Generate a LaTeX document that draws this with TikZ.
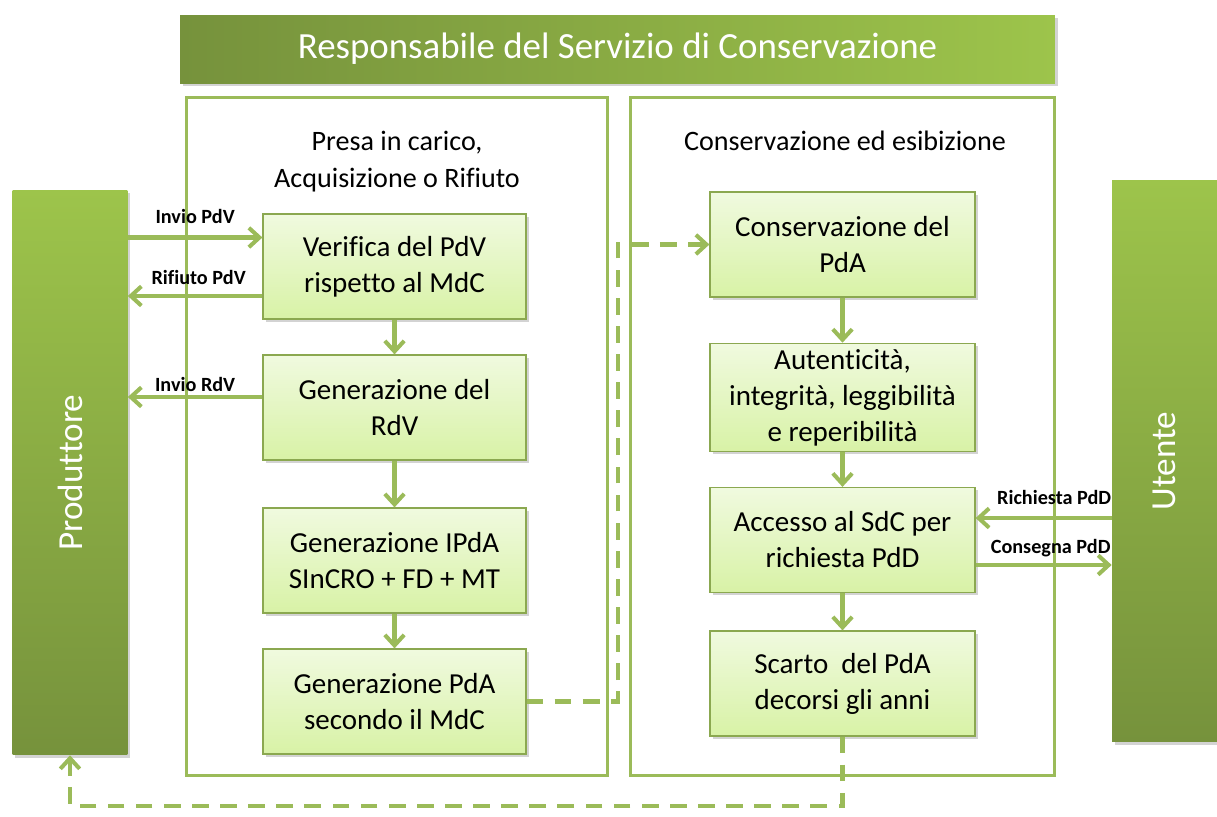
\documentclass[tikz,border=0pt]{standalone}
\usepackage{fontspec}
\setmainfont{Carlito}[Ligatures=NoCommon]
\usepackage{tikz}
\usetikzlibrary{arrows.meta,shadows}
\definecolor{olive}{HTML}{9BBB59}
\definecolor{olivedark}{HTML}{76923C}
\definecolor{olivelight}{HTML}{9DC44B}
\definecolor{boxtop}{HTML}{F0FADF}
\definecolor{boxbot}{HTML}{D8F2A6}
\begin{document}
\begin{tikzpicture}[x=0.02cm,y=-0.02cm,
  step box/.style={draw=olive!90!black, line width=0.7pt, top color=boxtop, bottom color=boxbot,
    minimum width=5.26cm, minimum height=2.1cm, align=center, font=\fontsize{16.5}{20.5}\selectfont,
    drop shadow={opacity=0.35, shadow xshift=1.5pt, shadow yshift=-1.5pt}},
  frame/.style={draw=olive, line width=1.7pt, minimum height=13.58cm},
  side/.style={minimum width=2.3cm, minimum height=11.3cm, top color=olivelight, bottom color=olivedark,
    text=white, font=\fontsize{20}{24}\selectfont,
    drop shadow={opacity=0.35, shadow xshift=1.5pt, shadow yshift=-1.5pt}},
  arr/.style={olive, line width=2.3pt, -{Straight Barb[length=6pt,width=11pt]}},
  darr/.style={arr, dash pattern=on 9.5pt off 6.5pt},
  lab/.style={font=\fontsize{11.5}{13}\bfseries\selectfont, text=black, inner sep=2pt}]
\useasboundingbox (0,0) rectangle (1217,816);
\node[left color=olivedark, right color=olivelight, minimum width=17.5cm, minimum height=1.36cm,
  text=white, font=\fontsize{21}{25}\selectfont,
  drop shadow={opacity=0.35, shadow xshift=1.5pt, shadow yshift=-1.5pt}] (rsc) at (617.5,49)
  {Responsabile del Servizio di Conservazione};
\node[frame, minimum width=8.44cm] (lframe) at (397,436.5) {};
\node[frame, minimum width=8.5cm] (rframe) at (842.5,436.5) {};
\node[align=center, font=\fontsize{16}{21}\selectfont] (ltitle) at (397,162)
  {Presa in carico,\\Acquisizione o Rifiuto};
\node[font=\fontsize{16}{21}\selectfont] (rtitle) at (845,141) {Conservazione ed esibizione};
\node[side] (prod) at (70,472.5) {\rotatebox{90}{Produttore}};
\node[side, minimum width=2.1cm, minimum height=11.24cm] (ute) at (1164.5,461) {\rotatebox{90}{Utente}};
\node[step box] (verif) at (394.5,266.5) {Verifica del PdV\\rispetto al MdC};
\node[step box] (grdv) at (394.5,407.5) {Generazione del\\RdV};
\node[step box] (gipda) at (394.5,560.5) {Generazione IPdA\\SInCRO + FD + MT};
\node[step box] (gpda) at (394.5,701.5) {Generazione PdA\\secondo il MdC};
\node[step box, minimum width=5.3cm] (cons) at (842.5,244.5) {Conservazione del\\PdA};
\node[step box, minimum width=5.3cm] (aut) at (842.5,397.5) {Autenticità,\\integrità, leggibilità\\e reperibilità};
\node[step box, minimum width=5.3cm] (acc) at (842.5,540) {Accesso al SdC per\\richiesta PdD};
\node[step box, minimum width=5.3cm] (scar) at (842.5,683.5) {Scarto~ del PdA\\decorsi gli anni};
\draw[arr] (verif) -- (grdv);
\draw[arr] (grdv) -- (gipda);
\draw[arr] (gipda) -- (gpda);
\draw[arr] (cons) -- (aut);
\draw[arr] (aut) -- (acc);
\draw[arr] (acc) -- (scar);
\draw[arr] ([yshift=0.58cm]verif.west -| prod.east) -- ([yshift=0.58cm]verif.west)
  node[lab, midway, above=4.5pt] {Invio PdV};
\draw[arr] ([yshift=-0.59cm]verif.west) -- ([yshift=-0.59cm]verif.west -| prod.east)
  node[lab, midway, above=3.5pt, xshift=2pt] {Rifiuto PdV};
\draw[arr] ([yshift=0.21cm]grdv.west) -- ([yshift=0.21cm]grdv.west -| prod.east)
  node[lab, midway, above] {Invio RdV};
\draw[arr] ([yshift=0.44cm]acc.east -| ute.west) -- ([yshift=0.44cm]acc.east)
  node[lab, midway, above=4.5pt, xshift=6pt] {Richiesta PdD};
\draw[arr] ([yshift=-0.5cm]acc.east) -- ([yshift=-0.5cm]acc.east -| ute.west)
  node[lab, midway, above=1.5pt, xshift=4pt] {Consegna PdD};
\draw[darr] (gpda.east) -- ++(91,0) |- (cons.west);
\draw[darr] (scar.south) -- ++(0,69) -| (prod.south);
\end{tikzpicture}
\end{document}
